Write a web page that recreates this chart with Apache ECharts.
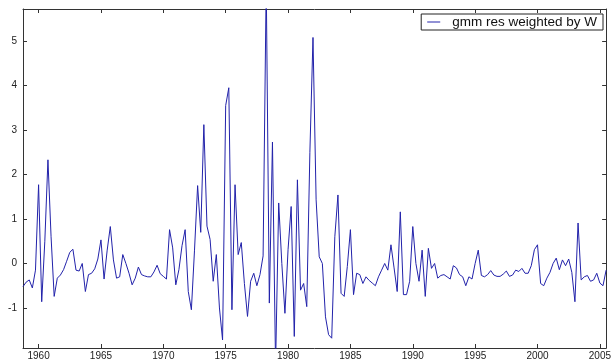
<!DOCTYPE html>
<html>
<head>
<meta charset="utf-8">
<script src="https://cdn.jsdelivr.net/npm/echarts@6/dist/echarts.min.js"></script>
<style>
  html, body { margin: 0; padding: 0; background: #fff; }
  #chart { width: 614px; height: 361px; }
</style>
</head>
<body>
<div id="chart"></div>
<script>
// quarterly residuals, first obs 1958Q4
const startYear = 1958.75;
const res1950s = [-0.52, -0.42, -0.37, -0.55, -0.15];
const res1960s = [1.77, -0.86, 0.5, 2.33, 0.6, -0.74, -0.33, -0.26, -0.14, 0.05,
  0.25, 0.32, -0.15, -0.17, 0.0, -0.63, -0.25, -0.22, -0.12, 0.1,
  0.53, -0.35, 0.3, 0.83, 0.08, -0.33, -0.3, 0.2, 0.0, -0.22,
  -0.48, -0.33, -0.08, -0.25, -0.28, -0.3, -0.3, -0.19, -0.04, -0.23];
const res1970s = [-0.29, -0.35, 0.76, 0.35, -0.48, -0.14, 0.4, 0.76, -0.63, -1.04,
  0.3, 1.75, 0.7, 3.12, 0.84, 0.54, -0.4, 0.2, -1.0, -1.72,
  3.55, 3.95, -1.04, 1.77, 0.2, 0.47, -0.45, -1.19, -0.4, -0.22,
  -0.5, -0.25, 0.17, 6.3, -0.89, 2.73, -2.3, 1.36, 0.0, -1.12];
const res1980s = [0.31, 1.28, -1.64, 1.88, -0.6, -0.45, -0.97, 2.5, 5.08, 1.43,
  0.15, 0.0, -1.2, -1.6, -1.68, 0.6, 1.54, -0.67, -0.74, -0.07,
  0.76, -0.7, -0.22, -0.25, -0.45, -0.3, -0.38, -0.44, -0.5, -0.3,
  -0.15, 0.0, -0.15, 0.42, -0.1, -0.63, 1.16, -0.7, -0.7, -0.4];
const res1990s = [0.83, 0.0, -0.4, 0.3, -0.74, 0.34, -0.11, 0.0, -0.33, -0.27,
  -0.25, -0.3, -0.35, -0.05, -0.1, -0.25, -0.3, -0.5, -0.3, -0.35,
  0.0, 0.3, -0.27, -0.3, -0.25, -0.16, -0.26, -0.29, -0.29, -0.24,
  -0.17, -0.29, -0.26, -0.15, -0.18, -0.11, -0.22, -0.22, -0.05, 0.31];
const res2000s = [0.42, -0.45, -0.5, -0.33, -0.2, 0.0, 0.12, -0.14, 0.08, -0.05,
  0.1, -0.2, -0.86, 0.91, -0.37, -0.3, -0.27, -0.4, -0.37, -0.22,
  -0.44, -0.5, -0.15];
const yearTicks = [1960, 1965, 1970, 1975, 1980, 1985, 1990, 1995, 2000, 2005];
const valueTicks = [-1, 0, 1, 2, 3, 4, 5];

const residuals = [].concat(res1950s, res1960s, res1970s, res1980s, res1990s, res2000s);
const seriesData = residuals.map((v, i) => [startYear + i * 0.25, v]);
const xMin = startYear;
const xMax = startYear + (residuals.length - 1) * 0.25;

const font = 'Liberation Sans';
const axisColor = '#333';

const chart = echarts.init(document.getElementById('chart'), null, { renderer: 'canvas' });

const xBase = {
  type: 'value',
  min: xMin,
  max: xMax,
  splitLine: { show: false },
  axisLine: { show: true, onZero: false, lineStyle: { color: axisColor, width: 1 } },
  axisTick: { show: true, inside: true, length: 4, customValues: yearTicks, lineStyle: { color: axisColor } },
};
const yBase = {
  type: 'value',
  min: -1.9,
  max: 5.72,
  splitLine: { show: false },
  axisLine: { show: true, onZero: false, lineStyle: { color: axisColor, width: 1 } },
  axisTick: { show: true, inside: true, length: 4, customValues: valueTicks, lineStyle: { color: axisColor } },
};

const option = {
  backgroundColor: '#fff',
  animation: false,
  grid: { left: 23, right: 5, top: 9, bottom: 13 },
  legend: {
    show: true,
    right: 11,
    top: 14,
    orient: 'horizontal',
    data: ['gmm res weighted by W'],
    icon: 'rect',
    backgroundColor: '#fff',
    borderColor: '#222',
    borderWidth: 1,
    borderRadius: 0,
    padding: [1, 6, 1, 6],
    itemWidth: 13,
    itemHeight: 1,
    itemGap: 0,
    textStyle: { fontFamily: font, fontSize: 13.5, color: '#111', padding: [0, 0, 0, 7] },
  },
  xAxis: [
    Object.assign({}, xBase, {
      position: 'bottom',
      axisLabel: {
        show: true, customValues: yearTicks, margin: 3,
        fontFamily: font, fontSize: 10, color: '#222',
        formatter: (v) => String(v),
      },
    }),
    Object.assign({}, xBase, { position: 'top', axisLabel: { show: false } }),
  ],
  yAxis: [
    Object.assign({}, yBase, {
      position: 'left',
      axisLabel: {
        show: true, customValues: valueTicks, margin: 6,
        fontFamily: font, fontSize: 10, color: '#222',
        formatter: (v) => String(v),
      },
    }),
    Object.assign({}, yBase, { position: 'right', axisLabel: { show: false } }),
  ],
  series: [
    {
      name: 'gmm res weighted by W',
      type: 'line',
      xAxisIndex: 0,
      yAxisIndex: 0,
      data: seriesData,
      symbol: 'none',
      clip: true,
      lineStyle: { color: '#2222aa', width: 1 },
      itemStyle: { color: '#2222aa' },
    },
  ],
};

chart.setOption(option);
</script>
</body>
</html>
